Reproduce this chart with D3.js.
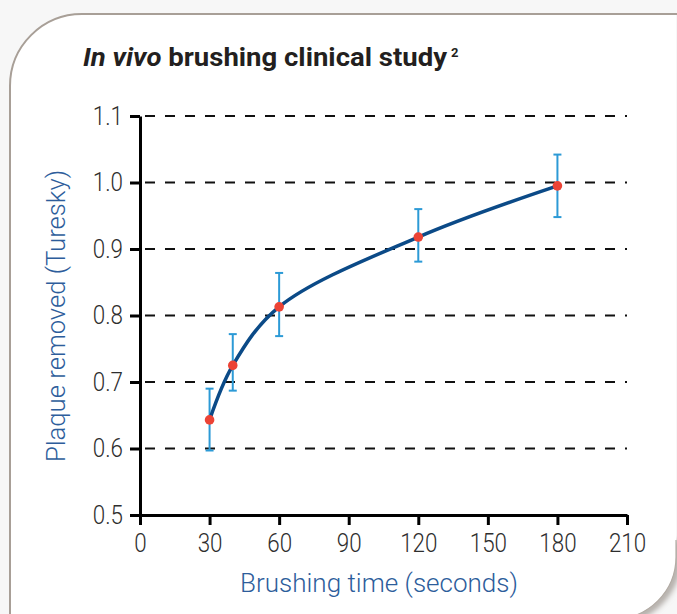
<!DOCTYPE html>
<html>
<head>
<meta charset="utf-8">
<script src="https://cdn.jsdelivr.net/npm/d3@7"></script>
<style>
  body { margin: 0; background: #f7f7f7; }
  svg { display: block; }
</style>
</head>
<body>
<div class="chart"></div>
<script>
// brushing time (s) vs plaque removed
var times = [30, 40, 60, 120, 180];
var plaque = [0.643, 0.725, 0.813, 0.918, 0.995];
var errHigh = [0.690, 0.772, 0.864, 0.960, 1.042];
var errLow = [0.597, 0.687, 0.769, 0.881, 0.948];
var xTicks = [0, 30, 60, 90, 120, 150, 180, 210];
var yTicks = [0.5, 0.6, 0.7, 0.8, 0.9, 1.0, 1.1];

var w = 677;
var h = 614;

var svg = d3.select(".chart")
  .append("svg")
  .attr("width", w)
  .attr("height", h);

var defs = svg.append("defs");
var blur = defs.append("filter").attr("id", "shadow")
  .attr("x", "-20%").attr("y", "-20%").attr("width", "140%").attr("height", "140%");
blur.append("feGaussianBlur").attr("stdDeviation", 3);

// card frame
svg.append("path")
  .attr("d", "M676,540 L676,557 A62,62 0 0 1 614,619")
  .attr("fill", "none")
  .attr("stroke", "#9a938c")
  .attr("stroke-width", 6)
  .attr("filter", "url(#shadow)")
  .attr("transform", "translate(1,1)");
svg.append("path")
  .attr("d", "M10,650 L10,86 A72,72 0 0 1 82,14 L676,14 L676,557 A62,62 0 0 1 614,619 L10,619 Z")
  .attr("fill", "#fff");
svg.append("path")
  .attr("d", "M10,650 L10,86 A72,72 0 0 1 82,14 L690,14")
  .attr("fill", "none")
  .attr("stroke", "#a89f97")
  .attr("stroke-width", 2);
svg.append("path")
  .attr("d", "M676,540 L676,557 A62,62 0 0 1 614,619")
  .attr("fill", "none")
  .attr("stroke", "#b3aca5")
  .attr("stroke-width", 1.2);

var x = d3.scaleLinear().domain([0, 210]).range([140, 627]);
var y = d3.scaleLinear().domain([0.5, 1.1]).range([515, 116]);

// dashed grid
svg.append("g")
  .selectAll("line")
  .data(yTicks.filter(function(d) { return d > 0.5; }))
  .enter()
  .append("line")
  .attr("x1", 145)
  .attr("x2", 627)
  .attr("y1", function(d) { return y(d); })
  .attr("y2", function(d) { return y(d); })
  .attr("stroke", "#111")
  .attr("stroke-width", 2)
  .attr("stroke-dasharray", "10,10");

var tickFont = "Roboto, 'Open Sans', sans-serif";

function squeeze(sel, k) {
  sel.each(function() {
    var len = this.getComputedTextLength();
    d3.select(this).attr("textLength", len * k).attr("lengthAdjust", "spacingAndGlyphs");
  });
}

var yAxis = svg.append("g")
  .attr("transform", "translate(" + x(0) + ",0)")
  .call(d3.axisLeft(y).tickValues(yTicks).tickFormat(d3.format(".1f")).tickSize(10).tickSizeOuter(0).tickPadding(7));

var xAxis = svg.append("g")
  .attr("transform", "translate(0," + y(0.5) + ")")
  .call(d3.axisBottom(x).tickValues(xTicks).tickSize(10).tickSizeOuter(0).tickPadding(9));

[xAxis, yAxis].forEach(function(ax) {
  ax.select(".domain").attr("stroke", "#000").attr("stroke-width", 3);
  ax.selectAll(".tick line").attr("stroke", "#000").attr("stroke-width", 3);
  ax.selectAll(".tick text")
    .attr("fill", "#2e2e2e")
    .style("font-family", tickFont)
    .style("font-weight", 300)
    .style("font-size", "26px");
  squeeze(ax.selectAll(".tick text"), 0.86);
});

// error bars
var errs = svg.append("g");
times.forEach(function(t, i) {
  var cx = x(t);
  errs.append("line")
    .attr("x1", cx).attr("x2", cx)
    .attr("y1", y(errLow[i])).attr("y2", y(errHigh[i]))
    .attr("stroke", "#2c9ad6").attr("stroke-width", 2);
  [errLow[i], errHigh[i]].forEach(function(v) {
    errs.append("line")
      .attr("x1", cx - 4).attr("x2", cx + 4)
      .attr("y1", y(v)).attr("y2", y(v))
      .attr("stroke", "#2c9ad6").attr("stroke-width", 2);
  });
});

var line = d3.line()
  .x(function(d, i) { return x(times[i]); })
  .y(function(d) { return y(d); })
  .curve(d3.curveCatmullRom.alpha(0.5));

svg.append("path")
  .datum(plaque)
  .attr("d", line)
  .attr("fill", "none")
  .attr("stroke", "#0b4a87")
  .attr("stroke-width", 3.5);

svg.selectAll("circle")
  .data(plaque)
  .enter()
  .append("circle")
  .attr("cx", function(d, i) { return x(times[i]); })
  .attr("cy", function(d) { return y(d); })
  .attr("r", 4.8)
  .attr("fill", "#ec4335");

// title
var title = svg.append("text")
  .attr("x", 83)
  .attr("y", 66)
  .attr("fill", "#231f20")
  .attr("textLength", 364)
  .attr("lengthAdjust", "spacingAndGlyphs")
  .style("font-family", "Roboto, sans-serif")
  .style("font-weight", 700)
  .style("font-size", "25px");
title.append("tspan").style("font-style", "italic").text("In vivo");
title.append("tspan").text(" brushing clinical study");
svg.append("text")
  .attr("x", 451)
  .attr("y", 57)
  .attr("fill", "#231f20")
  .style("font-family", "Roboto, sans-serif")
  .style("font-weight", 700)
  .style("font-size", "13px")
  .text("2");

// axis titles
svg.append("text")
  .attr("x", 379)
  .attr("y", 592)
  .attr("text-anchor", "middle")
  .attr("fill", "#2d5d9b")
  .attr("textLength", 278)
  .attr("lengthAdjust", "spacingAndGlyphs")
  .style("font-family", tickFont)
  .style("font-weight", 300)
  .style("font-size", "26px")
  .text("Brushing time (seconds)");

svg.append("text")
  .attr("transform", "translate(65,316) rotate(-90)")
  .attr("text-anchor", "middle")
  .attr("fill", "#2d5d9b")
  .attr("textLength", 292)
  .attr("lengthAdjust", "spacingAndGlyphs")
  .style("font-family", tickFont)
  .style("font-weight", 300)
  .style("font-size", "26px")
  .text("Plaque removed (Turesky)");
</script>
</body>
</html>
